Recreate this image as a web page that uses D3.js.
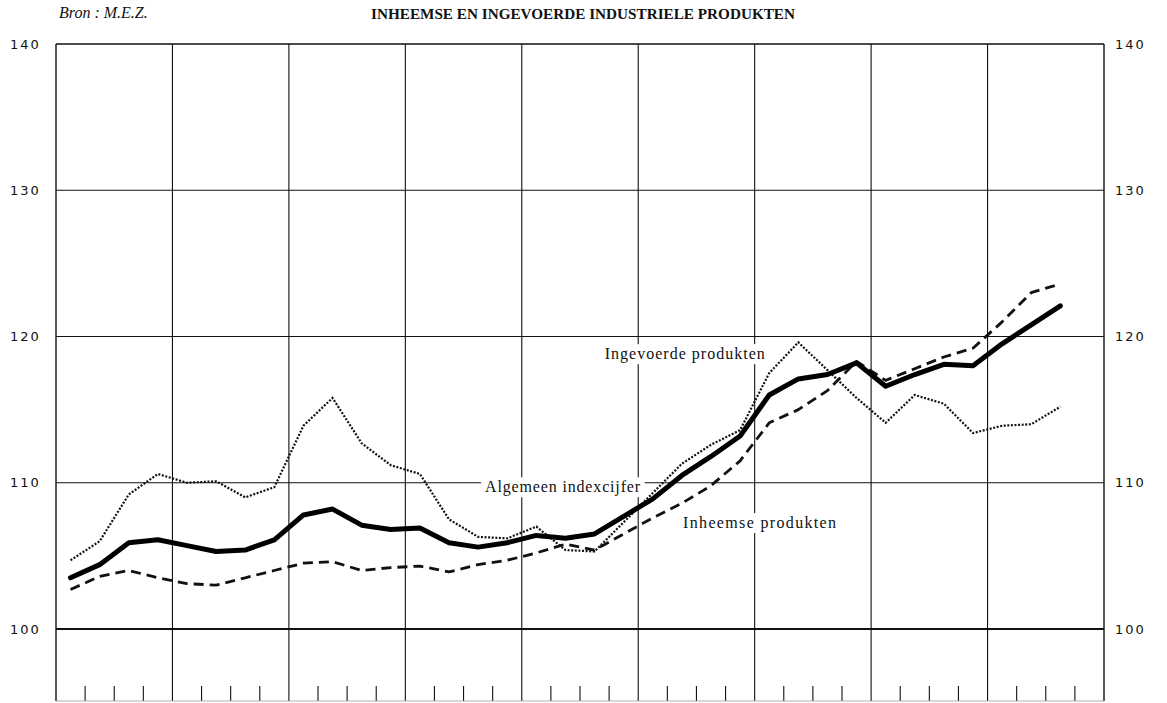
<!DOCTYPE html>
<html>
<head>
<meta charset="utf-8">
<script src="https://cdn.jsdelivr.net/npm/d3@7"></script>
<style>
  body { margin: 0; background: #fff; }
  svg { display: block; }
</style>
</head>
<body>
<div id="graph"></div>
<script>
// index per kwartaal, 9 jaar (laatste kwartaal ontbreekt)
const ingevoerd = [104.7, 106.0, 109.2, 110.6, 110.0, 110.1, 109.0, 109.7, 113.9, 115.8, 112.7, 111.2,
  110.6, 107.5, 106.3, 106.2, 107.0, 105.4, 105.3, 107.3, 109.3, 111.3, 112.6, 113.6,
  117.5, 119.6, 117.7, 115.8, 114.1, 116.0, 115.4, 113.4, 113.9, 114.0, 115.2];
const algemeen = [103.5, 104.4, 105.9, 106.1, 105.7, 105.3, 105.4, 106.1, 107.8, 108.2, 107.1, 106.8,
  106.9, 105.9, 105.6, 105.9, 106.4, 106.2, 106.5, 107.7, 108.9, 110.5, 111.8, 113.2,
  116.0, 117.1, 117.4, 118.2, 116.6, 117.4, 118.1, 118.0, 119.5, 120.8, 122.1];
const inheems = [102.7, 103.6, 104.0, 103.5, 103.1, 103.0, 103.5, 104.0, 104.5, 104.6, 104.0, 104.2,
  104.3, 103.9, 104.4, 104.7, 105.2, 105.8, 105.4, 106.5, 107.6, 108.6, 109.8, 111.5,
  114.1, 115.0, 116.3, 118.3, 117.0, 117.8, 118.6, 119.2, 121.0, 123.0, 123.6];
const yTicks = [100, 110, 120, 130, 140];
const years = 9;
const title = "INHEEMSE EN INGEVOERDE INDUSTRIELE PRODUKTEN";
const source = "Bron : M.E.Z.";

const fullwidth = 1167;
const fullheight = 703;
const plotLeft = 56, plotRight = 1104, plotTop = 44, plotBottom = 701;

var svg = d3.select("#graph").
append("svg").
attr("width", fullwidth).
attr("height", fullheight);

var x = d3.scaleLinear().domain([0, years * 4]).range([plotLeft, plotRight]);
var y = d3.scaleLinear().domain([100, 140]).range([629, plotTop]);

// rooster
var grid = svg.append("g").attr("stroke", "#111").attr("fill", "none");

grid.selectAll("line.v").
data(d3.range(years + 1)).
enter().append("line").
attr("class", "v").
attr("x1", d => x(d * 4)).
attr("x2", d => x(d * 4)).
attr("y1", plotTop).
attr("y2", plotBottom).
attr("stroke-width", (d, i) => (i == 0 || i == years) ? 1.4 : 1.1);

grid.selectAll("line.h").
data(yTicks).
enter().append("line").
attr("class", "h").
attr("x1", plotLeft).
attr("x2", plotRight).
attr("y1", d => y(d)).
attr("y2", d => y(d)).
attr("stroke-width", d => d == 100 ? 2 : (d == 140 ? 1.6 : 1.2));

// kwartaalstreepjes onderaan
grid.selectAll("line.q").
data(d3.range(years * 4).filter(q => q % 4 != 0)).
enter().append("line").
attr("class", "q").
attr("x1", d => x(d)).
attr("x2", d => x(d)).
attr("y1", plotBottom - 15).
attr("y2", plotBottom).
attr("stroke-width", 1.1);

grid.append("line").
attr("x1", plotLeft).attr("x2", plotRight).
attr("y1", plotBottom).attr("y2", plotBottom).
attr("stroke", "#999").
attr("stroke-width", 0.8);

// assen
function axisLabels(g, xpos) {
  g.selectAll("text").
  data(yTicks).
  enter().append("text").
  attr("x", xpos).
  attr("y", d => y(d)).
  attr("dy", "0.36em").
  style("font-family", "DejaVu Sans, sans-serif").
  style("font-size", "13px").
  style("letter-spacing", "2px").
  style("fill", "#111").
  text(d => d);
}
axisLabels(svg.append("g"), 10);
axisLabels(svg.append("g"), 1115);

// lijnen
var line = d3.line().
x((d, i) => x(i + 0.5)).
y(d => y(d));

// labels met witte achtergrond (onder de lijnen)
var labels = [
  { text: "Ingevoerde produkten", q: 18.85, v: 118.45, len: 160 },
  { text: "Algemeen indexcijfer", q: 14.74, v: 109.35, len: 155 },
  { text: "Inheemse produkten", q: 21.54, v: 106.9, len: 153 }
];
var lab = svg.append("g");
labels.forEach(function (l) {
  var t = lab.append("text").
  attr("x", x(l.q)).
  attr("y", y(l.v)).
  attr("textLength", l.len).
  attr("lengthAdjust", "spacing").
  style("font-family", "Liberation Serif, serif").
  style("font-size", "16px").
  style("fill", "#111").
  text(l.text);
  var b = t.node().getBBox();
  lab.insert("rect", "text").
  attr("x", b.x - 4).
  attr("y", b.y - 1).
  attr("width", b.width + 8).
  attr("height", b.height + 2).
  attr("fill", "#fff");
});

svg.append("path").
datum(inheems).
attr("fill", "none").
attr("stroke", "#111").
attr("stroke-width", 2.8).
attr("stroke-dasharray", "10,6").
attr("stroke-linejoin", "round").
attr("d", line);

svg.append("path").
datum(ingevoerd).
attr("fill", "none").
attr("stroke", "#111").
attr("stroke-width", 2.2).
attr("stroke-dasharray", "2,1.6").
attr("d", line);

svg.append("path").
datum(algemeen).
attr("fill", "none").
attr("stroke", "#000").
attr("stroke-width", 5).
attr("stroke-linejoin", "round").
attr("stroke-linecap", "round").
attr("d", line);

// titel en bron
svg.append("text").
attr("x", 583).
attr("y", 19).
attr("text-anchor", "middle").
attr("textLength", 424).
attr("lengthAdjust", "spacingAndGlyphs").
style("font-family", "Liberation Serif, serif").
style("font-weight", "bold").
style("font-size", "15px").
style("fill", "#111").
text(title);

svg.append("text").
attr("x", 59).
attr("y", 18).
style("font-family", "Liberation Serif, serif").
style("font-style", "italic").
style("font-size", "16px").
style("fill", "#111").
text(source);
</script>
</body>
</html>
